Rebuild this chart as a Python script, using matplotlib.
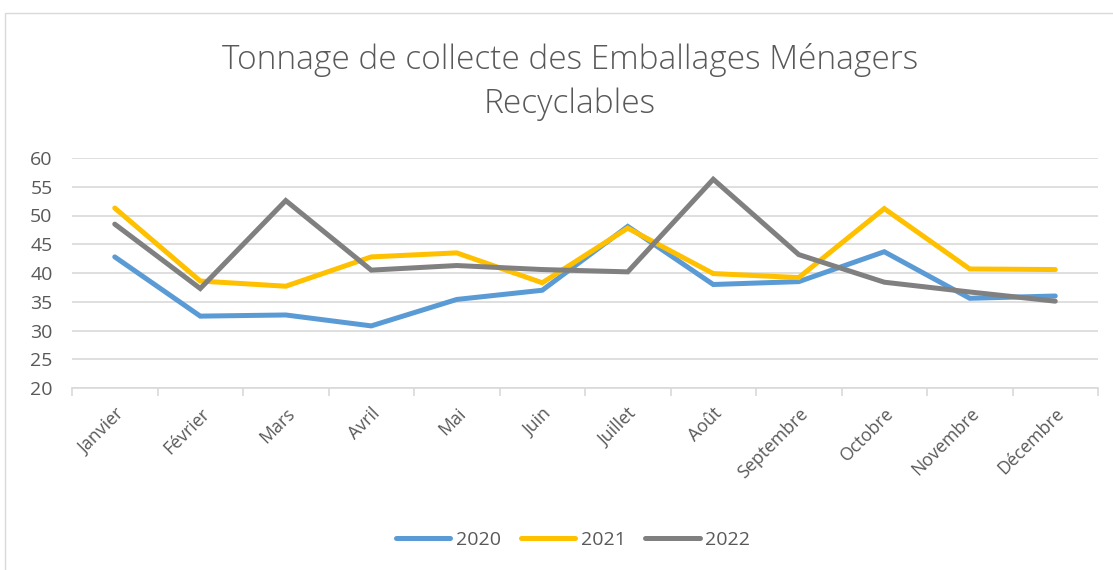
import matplotlib.pyplot as plt
from matplotlib.patches import Rectangle

# ── Data ──────────────────────────────────────────────────────────────────────
MONTHS = ["Janvier", "Février", "Mars", "Avril", "Mai", "Juin", "Juillet",
          "Août", "Septembre", "Octobre", "Novembre", "Décembre"]
Y2020 = [42.8, 32.5, 32.7, 30.8, 35.4, 37.0, 48.1, 38.0, 38.5, 43.7, 35.6, 36.0]
Y2021 = [51.3, 38.6, 37.7, 42.8, 43.5, 38.3, 47.8, 39.9, 39.2, 51.2, 40.7, 40.6]
Y2022 = [48.5, 37.3, 52.6, 40.5, 41.3, 40.6, 40.2, 56.3, 43.2, 38.4, 36.7, 35.1]
YEARS = ["2020", "2021", "2022"]
Y_TICKS = [20, 25, 30, 35, 40, 45, 50, 55, 60]

# ── Style ─────────────────────────────────────────────────────────────────────
COLORS = ["#5B9BD5", "#FFC000", "#808080"]
TEXT = "#595959"
GRID = "#D9D9D9"
FONT = "Open Sans"

W, H, DPI = 1113, 570, 100

fig = plt.figure(figsize=(W / DPI, H / DPI), dpi=DPI)
plt.rcParams["font.family"] = FONT

# chart border
fig.patches.append(Rectangle((5 / W, -0.05), 1.1, (H - 13) / H + 0.05,
                             transform=fig.transFigure, fill=False,
                             edgecolor=GRID, linewidth=1.0))

ax = fig.add_axes([72 / W, 1 - 388 / H, (1098 - 72) / W, (388 - 158) / H])

x = list(range(len(MONTHS)))
for vals, col, lab in zip([Y2020, Y2021, Y2022], COLORS, YEARS):
    ax.plot(x, vals, color=col, linewidth=3.6, label=lab,
            solid_capstyle="round", solid_joinstyle="miter")

ax.set_xlim(-0.5, len(MONTHS) - 0.5)
ax.set_ylim(20, 60)
ax.set_yticks(Y_TICKS)
ax.yaxis.grid(True, color=GRID, linewidth=1.2)
ax.set_axisbelow(True)
for s in ["top", "right", "left"]:
    ax.spines[s].set_visible(False)
ax.spines["bottom"].set_color(GRID)
ax.spines["bottom"].set_linewidth(1.2)
ax.tick_params(axis="y", length=0, labelsize=14, labelcolor=TEXT, pad=14)

ax.set_xticks(x)
ax.set_xticklabels(MONTHS, rotation=45, ha="right", rotation_mode="anchor",
                   fontsize=12.8, color=TEXT)
ax.tick_params(axis="x", which="major", length=0, pad=12)
ax.set_xticks([i - 0.5 for i in range(len(MONTHS) + 1)], minor=True)
ax.tick_params(axis="x", which="minor", length=6, color=GRID, width=1.2)

fig.text(0.512, 1 - 82 / H, "Tonnage de collecte des Emballages Ménagers\nRecyclables",
         ha="center", va="center", fontsize=24, color=TEXT, linespacing=1.45,
         fontweight="light")

leg = fig.legend(loc="center", bbox_to_anchor=(0.515, 1 - 540 / H), ncol=3,
                 frameon=False, fontsize=14, handlelength=2.8,
                 columnspacing=1.0, handletextpad=0.3)
for t in leg.get_texts():
    t.set_color(TEXT)

fig.savefig("out.png", dpi=DPI)
